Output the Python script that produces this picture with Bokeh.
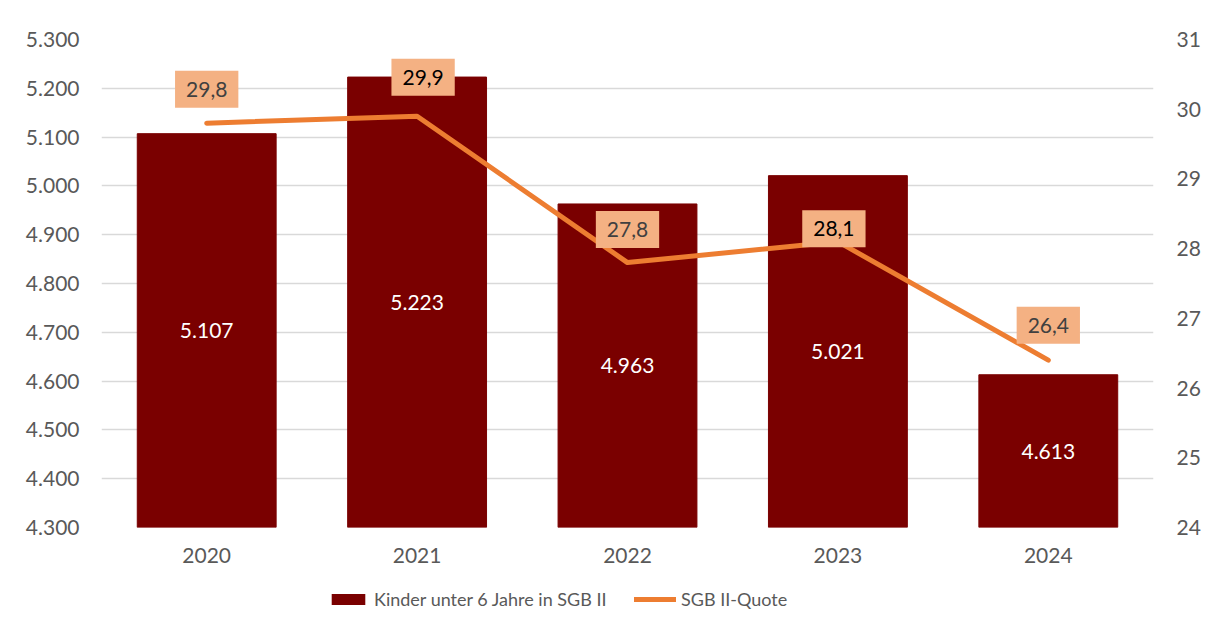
from bokeh.plotting import figure
from bokeh.layouts import column
from bokeh.models import (Range1d, LinearAxis, FactorRange, FixedTicker, Legend, LegendItem,
                          ColumnDataSource)
from bokeh.core.properties import value
from bokeh.embed import file_html
from bokeh.resources import INLINE

years = ["2020", "2021", "2022", "2023", "2024"]
kinder = [5107, 5223, 4963, 5021, 4613]
quote = [29.8, 29.9, 27.8, 28.1, 26.4]
left_ticks = [4300, 4400, 4500, 4600, 4700, 4800, 4900, 5000, 5100, 5200, 5300]
right_ticks = [24, 25, 26, 27, 28, 29, 30, 31]
series_names = ["Kinder unter 6 Jahre in SGB II", "SGB II-Quote"]

FONT = "Lato"
GREY = "#595959"
BAR = "#7A0000"
LINE = "#ED7D31"
BOXC = "#F4B183"

def de_int(v):
    return f"{v:,}".replace(",", ".")

def de_dec(v):
    return f"{v:.1f}".replace(".", ",")

p = figure(frame_width=1052, frame_height=488, x_range=FactorRange(*years, range_padding=0),
           y_range=Range1d(4300, 5300), output_backend="svg", toolbar_location=None,
           min_border_left=101, min_border_right=47, min_border_top=39, min_border_bottom=48)
p.outline_line_color = None
p.background_fill_color = "white"
p.border_fill_color = "white"
p.extra_y_ranges = {"q": Range1d(24, 31)}

# axes
p.yaxis.ticker = FixedTicker(ticks=left_ticks)
p.yaxis.major_label_overrides = {t: de_int(t) for t in left_ticks}
ra = LinearAxis(y_range_name="q", ticker=FixedTicker(ticks=right_ticks))
p.add_layout(ra, "right")
for ax in [p.yaxis[0], ra, p.xaxis[0]]:
    ax.axis_line_color = None
    ax.major_tick_line_color = None
    ax.minor_tick_line_color = None
    ax.major_tick_out = 0
    ax.major_tick_in = 0
    ax.major_label_text_font = FONT
    ax.major_label_text_font_size = "21px"
    ax.major_label_text_color = GREY
p.yaxis[0].major_label_standoff = 22
ra.major_label_standoff = 23
p.xaxis[0].major_label_standoff = 20

p.xgrid.grid_line_color = None
p.ygrid.grid_line_color = "#D9D9D9"
p.ygrid.grid_line_width = 1.5

src = ColumnDataSource(dict(
    x=years, k=kinder, q=quote,
    kmid=[(4300 + v) / 2 for v in kinder],
    klab=[de_int(v) for v in kinder],
    qlab=[de_dec(v) for v in quote],
    qcol=["#404040", "#000000", "#404040", "#000000", "#404040"],
    dx=[0, 6, 0, -4, 0],
    dy=[-34, -39, -33, -13, -35],
))

bars = p.vbar(x="x", top="k", bottom=4300, width=0.66, source=src, fill_color=BAR, line_color=BAR)
p.text(x="x", y="kmid", text="klab", source=src, text_color="white", text_align="center",
       text_baseline="middle", text_font=value(FONT), text_font_size="21px")

line = p.line(x="x", y="q", source=src, y_range_name="q", line_color=LINE, line_width=5,
              line_cap="round", line_join="round")

p.text(x="x", y="q", text="qlab", source=src, y_range_name="q", x_offset="dx", y_offset="dy",
       text_color="qcol", text_align="center", text_baseline="middle",
       text_font=value(FONT), text_font_size="21px",
       background_fill_color=BOXC, padding=(11, 11))

# legend strip below the chart; its swatch renderers reuse the chart's data, kept out of view
p2 = figure(width=1200, height=50, x_range=p.x_range, y_range=Range1d(1000000, 1000001),
            x_axis_type=None, y_axis_type=None, output_backend="svg", toolbar_location=None,
            min_border=0)
p2.outline_line_color = None
p2.grid.grid_line_color = None
lb = p2.vbar(x="x", top="k", bottom=4300, width=0, source=src, fill_color=BAR, line_color=None)
ll = p2.line(x="x", y="k", source=src, line_color=LINE, line_width=5, line_cap="round")

legend = Legend(items=[LegendItem(label=series_names[0], renderers=[lb]),
                       LegendItem(label=series_names[1], renderers=[ll])],
                orientation="horizontal", location=(226, 15),
                glyph_width=42, glyph_height=14, label_text_font=FONT,
                label_text_font_size="18px", label_text_color=GREY, spacing=14,
                label_width=246, padding=0, margin=0, label_standoff=5,
                background_fill_alpha=0, border_line_color=None)
p2.add_layout(legend)

layout = column(p, p2, spacing=0)
open("out.html", "w").write(file_html(layout, INLINE))
